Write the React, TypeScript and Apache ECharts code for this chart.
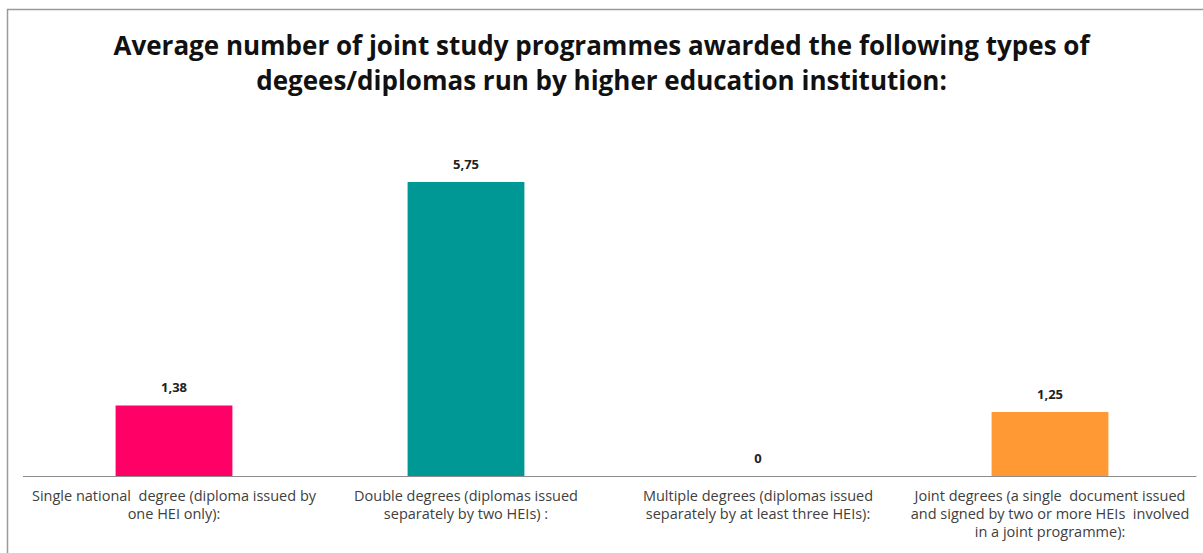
import React, { useEffect, useRef } from "react";
import * as echarts from "echarts";

const titleText = "Average number of joint study programmes awarded the following types of\ndegees/diplomas run by higher education institution:";
const categories = [
  "Single national  degree (diploma issued by\none HEI only):",
  "Double degrees (diplomas issued\nseparately by two HEIs) :",
  "Multiple degrees (diplomas issued\nseparately by at least three HEIs):",
  "Joint degrees (a single  document issued\nand signed by two or more HEIs  involved\nin a joint programme):",
];
const values = [1.38, 5.75, 0, 1.25];
const colors = ["#FF0066", "#009895", "#FF0066", "#FF9933"];

export default function App() {
  const ref = useRef<HTMLDivElement>(null);
  useEffect(() => {
    document.body.style.margin = "0";
    const chart = echarts.init(ref.current!, null, { renderer: "svg" });
    chart.setOption({
      animation: false,
      backgroundColor: "#ffffff",
      title: {
        text: titleText,
        left: "center",
        top: 22,
        textStyle: { fontFamily: "Open Sans", fontWeight: "bold", fontSize: 26, lineHeight: 35, color: "#111111" },
      },
      graphic: [
        { type: "rect", shape: { x: 7.5, y: 9.5, width: 1210, height: 560 }, style: { fill: "none", stroke: "#9a9a9a", lineWidth: 1.5 }, silent: true },
        { type: "line", shape: { x1: 23, y1: 476.5, x2: 28, y2: 476.5 }, style: { stroke: "#8c8c8c", lineWidth: 1 }, silent: true },
      ],
      grid: { left: 28, right: 7, top: 476 - 6.5 * 51.13, bottom: 553 - 476 },
      xAxis: {
        type: "category",
        data: categories,
        axisLine: { show: true, lineStyle: { color: "#8c8c8c", width: 1 } },
        axisTick: { show: false },
        axisLabel: { show: false },
      },
      yAxis: { type: "value", min: 0, max: 6.5, show: false, splitLine: { show: false } },
      series: [
        {
          type: "bar",
          barWidth: "40%",
          barGap: "-100%",
          data: values.map((v, i) => ({ value: v, itemStyle: { color: colors[i] } })),
          label: {
            show: true,
            position: "top",
            distance: 12,
            fontFamily: "Open Sans",
            fontWeight: "bold",
            fontSize: 13,
            color: "#222222",
            formatter: (p: any) => String(p.value).replace(".", ","),
          },
        },
        {
          type: "bar",
          barWidth: "40%",
          barGap: "-100%",
          silent: true,
          data: categories.map(() => 0),
          itemStyle: { color: "rgba(0,0,0,0)" },
          label: {
            show: true,
            position: "bottom",
            distance: 10,
            align: "center",
            fontFamily: "Open Sans",
            fontSize: 14.5,
            lineHeight: 18,
            color: "#404040",
            formatter: (p: any) => p.name,
          },
        },
      ],
    });
    return () => chart.dispose();
  }, []);
  return <div ref={ref} style={{ position: "fixed", left: 0, top: 0, width: 1203, height: 553 }} />;
}
